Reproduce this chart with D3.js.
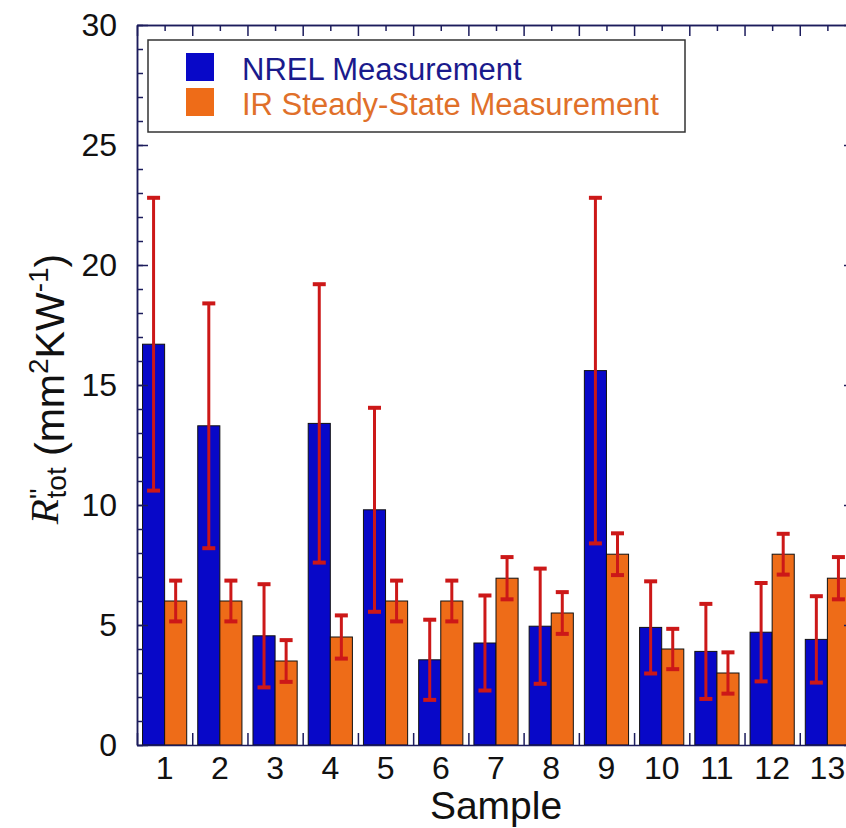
<!DOCTYPE html>
<meta charset="utf-8">
<style>
body { margin: 0; background: #fff; }
svg { font-family: "Liberation Sans", Arial, sans-serif; }
.axis path, .axis line { stroke: #1c1c5c; stroke-width: 1.5; }
.axis text { fill: #111; font-size: 32px; }
</style>
<svg width="846" height="828"></svg>
<script src="https://d3js.org/d3.v7.min.js"></script>
<script>
// data
var samples  = ["1","2","3","4","5","6","7","8","9","10","11","12","13"];
var nrel     = [16.7, 13.3, 4.55, 13.4, 9.8, 3.55, 4.25, 4.95, 15.6, 4.9, 3.9, 4.7, 4.4];
var nrelErr  = [6.1, 5.1, 2.15, 5.8, 4.25, 1.67, 1.98, 2.4, 7.2, 1.92, 1.98, 2.05, 1.8];
var ir       = [6.0, 6.0, 3.5, 4.5, 6.0, 6.0, 6.95, 5.5, 7.95, 4.0, 3.0, 7.95, 6.95];
var irErr    = [0.85, 0.85, 0.87, 0.9, 0.85, 0.85, 0.88, 0.87, 0.87, 0.84, 0.86, 0.85, 0.88];
var seriesNames = ["NREL Measurement", "IR Steady-State Measurement"];
var yTicks = [0, 5, 10, 15, 20, 25, 30];

var svg = d3.select("svg");
// plot frame (window.top is reserved, so use m* names)
var mLeft = 137, mRight = 855, mTop = 25, mBottom = 745;

var x = d3.scaleBand().domain(samples).range([mLeft, mRight])
    .paddingInner(0.2).paddingOuter(0.1);
var xSub = d3.scaleBand().domain(["nrel", "ir"]).range([0, x.bandwidth()]);
var xLin = d3.scaleLinear().domain([0, samples.length]).range([mLeft, mRight]);
var y = d3.scaleLinear().domain([0, 30]).range([mBottom, mTop]);

var colors = {nrel: "#0808c8", ir: "#ee6c18"};
var errColor = "#cc1818";

var rows = samples.map(function(s, i) {
  return [
    {s: s, key: "nrel", v: nrel[i], e: nrelErr[i]},
    {s: s, key: "ir", v: ir[i], e: irErr[i]}
  ];
});

// bars
var groups = svg.append("g").selectAll("g")
    .data(rows).enter().append("g")
    .attr("transform", function(d) { return "translate(" + x(d[0].s) + ",0)"; });

groups.selectAll("rect").data(function(d) { return d; }).enter().append("rect")
    .attr("x", function(d) { return xSub(d.key); })
    .attr("y", function(d) { return y(d.v); })
    .attr("width", xSub.bandwidth())
    .attr("height", function(d) { return y(0) - y(d.v); })
    .attr("fill", function(d) { return colors[d.key]; })
    .attr("stroke", "#111")
    .attr("stroke-width", 1);

// error bars
var eb = groups.selectAll("g.err").data(function(d) { return d; }).enter().append("g")
    .attr("class", "err")
    .attr("stroke", errColor);
var cx = function(d) { return xSub(d.key) + xSub.bandwidth() / 2; };
eb.append("line")
    .attr("x1", cx).attr("x2", cx)
    .attr("y1", function(d) { return y(d.v - d.e); })
    .attr("y2", function(d) { return y(d.v + d.e); })
    .attr("stroke-width", 3);
[-1, 1].forEach(function(sign) {
  eb.append("line")
      .attr("x1", function(d) { return cx(d) - 6.5; })
      .attr("x2", function(d) { return cx(d) + 6.5; })
      .attr("y1", function(d) { return y(d.v + sign * d.e); })
      .attr("y2", function(d) { return y(d.v + sign * d.e); })
      .attr("stroke-width", 4);
});

// axes (ticks point inward)
svg.append("g").attr("class", "axis").attr("transform", "translate(" + mLeft + ",0)")
    .call(d3.axisLeft(y).tickValues(d3.range(0, 31)).tickSize(-6).tickSizeOuter(0).tickFormat(""));
svg.append("g").attr("class", "axis").attr("transform", "translate(" + mLeft + ",0)")
    .call(d3.axisLeft(y).tickValues(yTicks).tickSize(-11).tickSizeOuter(0).tickPadding(20));
svg.append("g").attr("class", "axis").attr("transform", "translate(" + mRight + ",0)")
    .call(d3.axisRight(y).tickValues(d3.range(0, 31)).tickSize(-6).tickSizeOuter(0).tickFormat(""));
svg.append("g").attr("class", "axis").attr("transform", "translate(" + mRight + ",0)")
    .call(d3.axisRight(y).tickValues(yTicks).tickSize(-11).tickSizeOuter(0).tickFormat(""));
svg.append("g").attr("class", "axis").attr("transform", "translate(0," + mTop + ")")
    .call(d3.axisTop(xLin).tickValues(d3.range(0, 14)).tickSize(-11).tickSizeOuter(0).tickFormat(""));
svg.append("g").attr("class", "axis").attr("transform", "translate(0," + mTop + ")")
    .call(d3.axisTop(xLin).tickValues(d3.range(0.5, 13, 1)).tickSize(-6).tickSizeOuter(0).tickFormat(""));
svg.append("g").attr("class", "axis").attr("transform", "translate(0," + mBottom + ")")
    .call(d3.axisBottom(xLin).tickValues(d3.range(0, 14)).tickSize(-12).tickSizeOuter(0).tickFormat(""));
svg.append("g").attr("class", "axis").attr("transform", "translate(0," + mBottom + ")")
    .call(d3.axisBottom(x).tickSize(0).tickPadding(11))
    .select(".domain").remove();

// axis titles
svg.append("text")
    .attr("x", (mLeft + mRight) / 2).attr("y", 819)
    .attr("text-anchor", "middle")
    .attr("font-size", 39).attr("fill", "#111")
    .text("Sample");

var yl = svg.append("text")
    .attr("transform", "translate(64," + ((mTop + mBottom) / 2 + 4) + ") rotate(-90)")
    .attr("text-anchor", "middle")
    .attr("font-size", 41).attr("fill", "#111");
yl.append("tspan").attr("font-family", "'Liberation Serif', 'Times New Roman', serif")
    .attr("font-style", "italic").attr("dy", -6).text("R");
yl.append("tspan").attr("font-size", 28).attr("dy", -9).text("''");
yl.append("tspan").attr("font-size", 28).attr("dx", -10).attr("dy", 17).text("tot");
yl.append("tspan").attr("dy", -2).text(" (mm");
yl.append("tspan").attr("font-size", 28).attr("dy", -16).text("2");
yl.append("tspan").attr("dy", 16).text("KW");
yl.append("tspan").attr("font-size", 28).attr("dy", -16).text("-1");
yl.append("tspan").attr("dy", 16).text(")");

// legend
var legend = svg.append("g");
legend.append("rect")
    .attr("x", 148).attr("y", 40).attr("width", 537).attr("height", 92)
    .attr("fill", "#fff").attr("stroke", "#333").attr("stroke-width", 1.5);
var legendColors = [colors.nrel, colors.ir];
var legendText = ["#1a1a8c", "#e0702a"];
seriesNames.forEach(function(name, i) {
  legend.append("rect")
      .attr("x", 186).attr("y", 53 + i * 35).attr("width", 28).attr("height", 28)
      .attr("fill", legendColors[i]);
  legend.append("text")
      .attr("x", 242).attr("y", 80 + i * 35)
      .attr("font-size", 31).attr("fill", legendText[i])
      .text(name);
});
</script>
